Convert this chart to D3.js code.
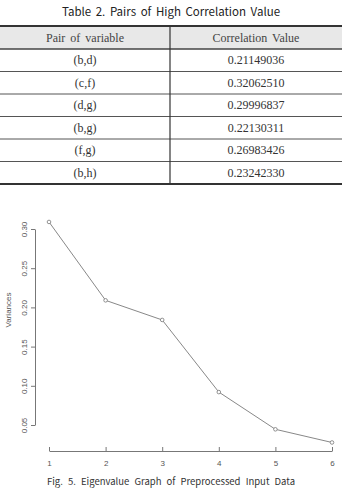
<!DOCTYPE html>
<html><head><meta charset="utf-8">
<script src="https://cdn.jsdelivr.net/npm/d3@7"></script>
<style>body{margin:0;background:#fff;overflow:hidden}svg{display:block}</style>
</head><body>
<script>
const tableTitle = "Table 2. Pairs of High Correlation Value";
const headers = ["Pair of variable", "Correlation Value"];
const pairs = ["(b,d)", "(c,f)", "(d,g)", "(b,g)", "(f,g)", "(b,h)"];
const corrValues = ["0.21149036", "0.32062510", "0.29996837", "0.22130311", "0.26983426", "0.23242330"];
const components = [1, 2, 3, 4, 5, 6];
const variances = [0.309, 0.209, 0.184, 0.092, 0.0445, 0.0277];
const yTicks = [0.05, 0.10, 0.15, 0.20, 0.25, 0.30];
const caption = "Fig. 5. Eigenvalue Graph of Preprocessed Input Data";

const W = 342, H = 488;
const svg = d3.select("body").append("svg").attr("width", W).attr("height", H);

// ---- Table ----
svg.append("text").attr("x", 171).attr("y", 16).attr("text-anchor", "middle")
  .style("font-family", "'Noto Sans CJK KR','Noto Sans',sans-serif").style("font-size", "11.5px")
  .style("word-spacing", "2px").attr("fill", "#222").text(tableTitle);

const tTop = 26, headH = 23, rowH = 22.5, divX = 170;
const colX = d3.scaleOrdinal().domain([0, 1]).range([85, 256]);
const rowY = d3.scaleLinear().domain([0, pairs.length]).range([tTop + headH, tTop + headH + rowH * pairs.length]);

svg.append("rect").attr("x", 0).attr("y", tTop).attr("width", W).attr("height", headH).attr("fill", "#e8e8e8");
const serif = "'Liberation Serif','DejaVu Serif',serif";
headers.forEach((h, i) => {
  svg.append("text").attr("x", colX(i)).attr("y", tTop + headH / 2 + 4).attr("text-anchor", "middle")
    .style("font-family", serif).style("font-size", "12px").style("word-spacing", "2px").attr("fill", "#444").text(h);
});
pairs.forEach((p, i) => {
  const yc = (rowY(i) + rowY(i + 1)) / 2 + 4;
  svg.append("text").attr("x", colX(0)).attr("y", yc).attr("text-anchor", "middle")
    .style("font-family", serif).style("font-size", "12px").attr("fill", "#333").text(p);
  svg.append("text").attr("x", colX(1)).attr("y", yc).attr("text-anchor", "middle")
    .style("font-family", serif).style("font-size", "12px").attr("fill", "#333").text(corrValues[i]);
  if (i > 0) svg.append("line").attr("x1", 0).attr("x2", W).attr("y1", rowY(i)).attr("y2", rowY(i))
    .attr("stroke", "#555").attr("stroke-width", 1);
});
svg.append("line").attr("x1", 0).attr("x2", W).attr("y1", tTop).attr("y2", tTop).attr("stroke", "#333").attr("stroke-width", 1.8);
svg.append("line").attr("x1", 0).attr("x2", W).attr("y1", tTop + headH).attr("y2", tTop + headH).attr("stroke", "#444").attr("stroke-width", 1.3);
svg.append("line").attr("x1", 0).attr("x2", W).attr("y1", rowY(pairs.length)).attr("y2", rowY(pairs.length)).attr("stroke", "#333").attr("stroke-width", 1.8);
svg.append("line").attr("x1", divX).attr("x2", divX).attr("y1", tTop).attr("y2", rowY(pairs.length)).attr("stroke", "#333").attr("stroke-width", 1.2);

// ---- Chart ----
const x = d3.scaleLinear().domain([1, 6]).range([49, 332]);
const y = d3.scaleLinear().domain([0.05, 0.30]).range([425, 229]);
const axColor = "#777";
const sans = "'Liberation Sans',Arial,sans-serif";

const yAxis = svg.append("g").attr("transform", "translate(35,0)")
  .call(d3.axisLeft(y).tickValues(yTicks).tickFormat(d3.format(".2f")).tickSize(4).tickSizeOuter(0));
yAxis.select(".domain").attr("stroke", axColor);
yAxis.selectAll(".tick line").attr("stroke", axColor);
yAxis.selectAll(".tick text").attr("fill", "#555").style("font-family", sans).style("font-size", "8px")
  .attr("text-anchor", "middle").attr("x", 0).attr("y", 0).attr("dy", 0)
  .attr("transform", "translate(-8,0) rotate(-90)");

const xAxis = svg.append("g").attr("transform", "translate(0,451)")
  .call(d3.axisBottom(x).tickValues(components).tickFormat(d3.format("d")).tickSize(-4).tickSizeOuter(0));
xAxis.select(".domain").attr("stroke", axColor);
xAxis.selectAll(".tick line").attr("stroke", axColor).attr("y2", -4);
xAxis.selectAll(".tick text").attr("fill", "#555").style("font-family", sans).style("font-size", "8px").attr("y", 15).attr("dy", 0);

svg.append("text").attr("transform", "translate(11,310) rotate(-90)").attr("text-anchor", "middle")
  .style("font-family", sans).style("font-size", "8px").attr("fill", "#555").text("Variances");

const data = components.map((c, i) => ({c, v: variances[i]}));
svg.append("path").datum(data).attr("fill", "none").attr("stroke", "#888").attr("stroke-width", 1)
  .attr("d", d3.line().x(d => x(d.c)).y(d => y(d.v)));
svg.selectAll("circle.pt").data(data).enter().append("circle").attr("class", "pt")
  .attr("cx", d => x(d.c)).attr("cy", d => y(d.v)).attr("r", 1.8)
  .attr("fill", "#fff").attr("stroke", "#777").attr("stroke-width", 0.8);

svg.append("text").attr("x", 171).attr("y", 485).attr("text-anchor", "middle")
  .style("font-family", "'Noto Sans CJK KR','Noto Sans',sans-serif").style("font-size", "9.5px")
  .style("word-spacing", "3px").attr("fill", "#333").text(caption);
</script>
</body></html>
